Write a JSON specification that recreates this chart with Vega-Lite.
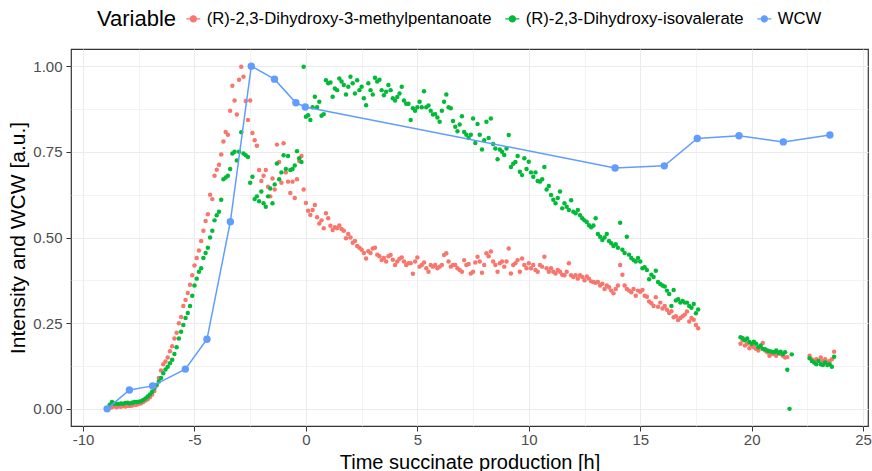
{
  "$schema": "https://vega.github.io/schema/vega-lite/v6.json",
  "autosize": {"type": "none"},
  "width": 797,
  "height": 377,
  "padding": {"left": 71, "top": 49, "right": 4, "bottom": 45},
  "background": "white",
  "config": {
    "font": "Liberation Sans",
    "view": {"stroke": "#333333", "strokeWidth": 1.2},
    "axis": {
      "domain": false,
      "tickColor": "#333333",
      "tickSize": 5,
      "labelColor": "#4D4D4D",
      "labelFontSize": 15,
      "titleFontSize": 21,
      "titleFontWeight": "normal",
      "titleColor": "#000000",
      "gridColor": "#EBEBEB"
    }
  },
  "datasets": {
    "mp": [
      {"t":-8.8,"v":0.003},{"t":-8.7,"v":0.005},{"t":-8.6,"v":0.008},{"t":-8.5,"v":0.005},{"t":-8.4,"v":0.007},{"t":-8.3,"v":0.006},{"t":-8.2,"v":0.008},{"t":-8.1,"v":0.007},{"t":-8.0,"v":0.009},{"t":-7.9,"v":0.008},
      {"t":-7.8,"v":0.01},{"t":-7.7,"v":0.012},{"t":-7.6,"v":0.012},{"t":-7.5,"v":0.015},{"t":-7.4,"v":0.016},{"t":-7.3,"v":0.02},{"t":-7.2,"v":0.024},{"t":-7.1,"v":0.028},{"t":-7.0,"v":0.034},{"t":-6.9,"v":0.042},
      {"t":-6.8,"v":0.052},{"t":-6.7,"v":0.068},{"t":-6.6,"v":0.09},{"t":-6.5,"v":0.112},{"t":-6.4,"v":0.13},{"t":-6.3,"v":0.138},{"t":-6.2,"v":0.15},{"t":-6.1,"v":0.168},{"t":-6.0,"v":0.183},{"t":-5.9,"v":0.205},
      {"t":-5.8,"v":0.222},{"t":-5.7,"v":0.25},{"t":-5.6,"v":0.268},{"t":-5.5,"v":0.3},{"t":-5.4,"v":0.318},{"t":-5.3,"v":0.338},{"t":-5.2,"v":0.362},{"t":-5.1,"v":0.39},{"t":-5.0,"v":0.418},{"t":-4.9,"v":0.44},
      {"t":-4.8,"v":0.462},{"t":-4.7,"v":0.49},{"t":-4.6,"v":0.52},{"t":-4.5,"v":0.548},{"t":-4.4,"v":0.568},{"t":-4.3,"v":0.625},{"t":-4.2,"v":0.612},{"t":-4.1,"v":0.68},{"t":-4.0,"v":0.698},{"t":-3.9,"v":0.712},
      {"t":-3.8,"v":0.742},{"t":-3.7,"v":0.78},{"t":-3.6,"v":0.808},{"t":-3.5,"v":0.8},{"t":-3.4,"v":0.87},{"t":-3.3,"v":0.943},{"t":-3.2,"v":0.9},{"t":-3.1,"v":0.859},{"t":-3.0,"v":0.96},{"t":-2.9,"v":0.998},
      {"t":-2.8,"v":0.969},{"t":-2.7,"v":0.898},{"t":-2.6,"v":0.843},{"t":-2.5,"v":0.9},{"t":-2.4,"v":0.805},{"t":-2.3,"v":0.784},{"t":-2.2,"v":0.768},{"t":-2.1,"v":0.697},{"t":-2.0,"v":0.665},{"t":-1.9,"v":0.68},
      {"t":-1.8,"v":0.697},{"t":-1.7,"v":0.648},{"t":-1.6,"v":0.62},{"t":-1.5,"v":0.672},{"t":-1.4,"v":0.64},{"t":-1.3,"v":0.771},{"t":-1.2,"v":0.72},{"t":-1.1,"v":0.66},{"t":-1.0,"v":0.775},{"t":-0.9,"v":0.69},
      {"t":-0.8,"v":0.663},{"t":-0.7,"v":0.63},{"t":-0.6,"v":0.663},{"t":-0.5,"v":0.615},{"t":-0.4,"v":0.67},{"t":-0.3,"v":0.723},{"t":-0.2,"v":0.738},{"t":-0.1,"v":0.64},
      {"t":0.0,"v":0.601},{"t":0.1,"v":0.578},{"t":0.2,"v":0.566},{"t":0.3,"v":0.58},{"t":0.4,"v":0.595},{"t":0.5,"v":0.559},{"t":0.6,"v":0.541},{"t":0.7,"v":0.55},{"t":0.8,"v":0.527},{"t":0.9,"v":0.571},
      {"t":1.0,"v":0.556},{"t":1.1,"v":0.534},{"t":1.2,"v":0.522},{"t":1.3,"v":0.53},{"t":1.4,"v":0.527},{"t":1.5,"v":0.535},{"t":1.6,"v":0.525},{"t":1.7,"v":0.52},{"t":1.8,"v":0.498},{"t":1.9,"v":0.51},
      {"t":2.0,"v":0.5},{"t":2.1,"v":0.485},{"t":2.2,"v":0.49},{"t":2.3,"v":0.475},{"t":2.4,"v":0.47},{"t":2.5,"v":0.464},{"t":2.6,"v":0.455},{"t":2.7,"v":0.439},{"t":2.8,"v":0.46},{"t":2.9,"v":0.455},
      {"t":3.0,"v":0.468},{"t":3.1,"v":0.47},{"t":3.2,"v":0.45},{"t":3.3,"v":0.445},{"t":3.4,"v":0.434},{"t":3.5,"v":0.44},{"t":3.6,"v":0.43},{"t":3.7,"v":0.445},{"t":3.8,"v":0.449},{"t":3.9,"v":0.435},
      {"t":4.0,"v":0.42},{"t":4.1,"v":0.43},{"t":4.2,"v":0.438},{"t":4.3,"v":0.442},{"t":4.4,"v":0.43},{"t":4.5,"v":0.42},{"t":4.6,"v":0.425},{"t":4.7,"v":0.425},{"t":4.8,"v":0.394},{"t":4.9,"v":0.43},
      {"t":5.0,"v":0.442},{"t":5.1,"v":0.415},{"t":5.2,"v":0.42},{"t":5.3,"v":0.427},{"t":5.4,"v":0.41},{"t":5.5,"v":0.4},{"t":5.6,"v":0.42},{"t":5.7,"v":0.415},{"t":5.8,"v":0.42},{"t":5.9,"v":0.41},
      {"t":6.0,"v":0.415},{"t":6.1,"v":0.42},{"t":6.2,"v":0.449},{"t":6.3,"v":0.454},{"t":6.4,"v":0.43},{"t":6.5,"v":0.415},{"t":6.6,"v":0.42},{"t":6.7,"v":0.42},{"t":6.8,"v":0.41},{"t":6.9,"v":0.405},
      {"t":7.0,"v":0.4},{"t":7.1,"v":0.434},{"t":7.2,"v":0.42},{"t":7.3,"v":0.423},{"t":7.4,"v":0.395},{"t":7.5,"v":0.4},{"t":7.6,"v":0.427},{"t":7.7,"v":0.444},{"t":7.8,"v":0.43},{"t":7.9,"v":0.397},
      {"t":8.0,"v":0.42},{"t":8.1,"v":0.454},{"t":8.2,"v":0.445},{"t":8.3,"v":0.459},{"t":8.4,"v":0.43},{"t":8.5,"v":0.42},{"t":8.6,"v":0.4},{"t":8.7,"v":0.425},{"t":8.8,"v":0.43},{"t":8.9,"v":0.415},
      {"t":9.0,"v":0.43},{"t":9.1,"v":0.468},{"t":9.2,"v":0.395},{"t":9.3,"v":0.42},{"t":9.4,"v":0.425},{"t":9.5,"v":0.434},{"t":9.6,"v":0.4},{"t":9.7,"v":0.439},{"t":9.8,"v":0.42},{"t":9.9,"v":0.41},
      {"t":10.0,"v":0.425},{"t":10.1,"v":0.41},{"t":10.2,"v":0.42},{"t":10.3,"v":0.405},{"t":10.4,"v":0.4},{"t":10.5,"v":0.42},{"t":10.6,"v":0.415},{"t":10.7,"v":0.444},{"t":10.8,"v":0.41},{"t":10.9,"v":0.4},
      {"t":11.0,"v":0.41},{"t":11.1,"v":0.4},{"t":11.2,"v":0.395},{"t":11.3,"v":0.405},{"t":11.4,"v":0.4},{"t":11.5,"v":0.391},{"t":11.6,"v":0.39},{"t":11.7,"v":0.4},{"t":11.8,"v":0.425},{"t":11.9,"v":0.39},
      {"t":12.0,"v":0.385},{"t":12.1,"v":0.39},{"t":12.2,"v":0.38},{"t":12.3,"v":0.39},{"t":12.4,"v":0.385},{"t":12.5,"v":0.375},{"t":12.6,"v":0.386},{"t":12.7,"v":0.38},{"t":12.8,"v":0.372},{"t":12.9,"v":0.37},
      {"t":13.0,"v":0.368},{"t":13.1,"v":0.37},{"t":13.2,"v":0.36},{"t":13.3,"v":0.365},{"t":13.4,"v":0.35},{"t":13.5,"v":0.36},{"t":13.6,"v":0.355},{"t":13.7,"v":0.345},{"t":13.8,"v":0.337},{"t":13.9,"v":0.35},
      {"t":14.0,"v":0.36},{"t":14.1,"v":0.42},{"t":14.2,"v":0.391},{"t":14.3,"v":0.36},{"t":14.4,"v":0.35},{"t":14.5,"v":0.345},{"t":14.6,"v":0.34},{"t":14.7,"v":0.35},{"t":14.8,"v":0.33},{"t":14.9,"v":0.345},
      {"t":15.0,"v":0.342},{"t":15.1,"v":0.347},{"t":15.2,"v":0.33},{"t":15.3,"v":0.327},{"t":15.4,"v":0.313},{"t":15.5,"v":0.308},{"t":15.6,"v":0.3},{"t":15.7,"v":0.326},{"t":15.8,"v":0.298},{"t":15.9,"v":0.31},
      {"t":16.0,"v":0.293},{"t":16.1,"v":0.3},{"t":16.2,"v":0.289},{"t":16.3,"v":0.28},{"t":16.4,"v":0.285},{"t":16.5,"v":0.267},{"t":16.6,"v":0.27},{"t":16.7,"v":0.259},{"t":16.8,"v":0.265},{"t":16.9,"v":0.27},
      {"t":17.0,"v":0.275},{"t":17.1,"v":0.284},{"t":17.2,"v":0.255},{"t":17.3,"v":0.265},{"t":17.4,"v":0.26},{"t":17.5,"v":0.245},{"t":17.6,"v":0.235},
      {"t":19.5,"v":0.19},{"t":19.6,"v":0.2},{"t":19.7,"v":0.185},{"t":19.8,"v":0.19},{"t":19.9,"v":0.177},{"t":20.0,"v":0.185},{"t":20.1,"v":0.18},{"t":20.2,"v":0.175},{"t":20.3,"v":0.17},{"t":20.4,"v":0.18},
      {"t":20.5,"v":0.192},{"t":20.6,"v":0.17},{"t":20.7,"v":0.165},{"t":20.8,"v":0.155},{"t":20.9,"v":0.16},{"t":21.0,"v":0.16},{"t":21.1,"v":0.155},{"t":21.2,"v":0.165},{"t":21.3,"v":0.16},{"t":21.4,"v":0.155},
      {"t":21.5,"v":0.15},{"t":21.6,"v":0.151},
      {"t":22.6,"v":0.155},{"t":22.7,"v":0.145},{"t":22.8,"v":0.14},{"t":22.9,"v":0.145},{"t":23.0,"v":0.14},{"t":23.1,"v":0.15},{"t":23.2,"v":0.14},{"t":23.3,"v":0.145},{"t":23.4,"v":0.135},{"t":23.5,"v":0.14},
      {"t":23.6,"v":0.145},{"t":23.7,"v":0.167}
    ],
    "iv": [
      {"t":-8.8,"v":0.012},{"t":-8.7,"v":0.02},{"t":-8.6,"v":0.015},{"t":-8.5,"v":0.015},{"t":-8.4,"v":0.014},{"t":-8.3,"v":0.016},{"t":-8.2,"v":0.015},{"t":-8.1,"v":0.017},{"t":-8.0,"v":0.018},{"t":-7.9,"v":0.016},
      {"t":-7.8,"v":0.018},{"t":-7.7,"v":0.02},{"t":-7.6,"v":0.02},{"t":-7.5,"v":0.021},{"t":-7.4,"v":0.022},{"t":-7.3,"v":0.026},{"t":-7.2,"v":0.03},{"t":-7.1,"v":0.036},{"t":-7.0,"v":0.042},{"t":-6.9,"v":0.05},
      {"t":-6.8,"v":0.06},{"t":-6.7,"v":0.07},{"t":-6.6,"v":0.08},{"t":-6.5,"v":0.09},{"t":-6.4,"v":0.104},{"t":-6.3,"v":0.115},{"t":-6.2,"v":0.123},{"t":-6.1,"v":0.133},{"t":-6.0,"v":0.143},{"t":-5.9,"v":0.16},
      {"t":-5.8,"v":0.18},{"t":-5.7,"v":0.205},{"t":-5.6,"v":0.225},{"t":-5.5,"v":0.245},{"t":-5.4,"v":0.265},{"t":-5.3,"v":0.28},{"t":-5.2,"v":0.3},{"t":-5.1,"v":0.33},{"t":-5.0,"v":0.36},{"t":-4.9,"v":0.38},
      {"t":-4.8,"v":0.4},{"t":-4.7,"v":0.41},{"t":-4.6,"v":0.44},{"t":-4.5,"v":0.455},{"t":-4.4,"v":0.47},{"t":-4.3,"v":0.5},{"t":-4.2,"v":0.52},{"t":-4.1,"v":0.55},{"t":-4.0,"v":0.565},{"t":-3.9,"v":0.575},
      {"t":-3.8,"v":0.61},{"t":-3.7,"v":0.67},{"t":-3.6,"v":0.675},{"t":-3.5,"v":0.68},{"t":-3.4,"v":0.7},{"t":-3.3,"v":0.745},{"t":-3.2,"v":0.75},{"t":-3.1,"v":0.725},{"t":-3.0,"v":0.75},{"t":-2.9,"v":0.807},
      {"t":-2.8,"v":0.745},{"t":-2.7,"v":0.74},{"t":-2.6,"v":0.735},{"t":-2.5,"v":0.66},{"t":-2.4,"v":0.677},{"t":-2.3,"v":0.612},{"t":-2.2,"v":0.62},{"t":-2.1,"v":0.606},{"t":-2.0,"v":0.634},{"t":-1.9,"v":0.6},
      {"t":-1.8,"v":0.59},{"t":-1.7,"v":0.62},{"t":-1.6,"v":0.643},{"t":-1.5,"v":0.6},{"t":-1.4,"v":0.655},{"t":-1.3,"v":0.716},{"t":-1.2,"v":0.67},{"t":-1.1,"v":0.69},{"t":-1.0,"v":0.74},{"t":-0.9,"v":0.7},
      {"t":-0.8,"v":0.738},{"t":-0.7,"v":0.697},{"t":-0.6,"v":0.7},{"t":-0.5,"v":0.71},{"t":-0.4,"v":0.752},{"t":-0.3,"v":0.731},{"t":-0.2,"v":0.72},{"t":-0.1,"v":0.998},
      {"t":0.0,"v":0.852},{"t":0.1,"v":0.857},{"t":0.2,"v":0.843},{"t":0.3,"v":0.88},{"t":0.4,"v":0.911},{"t":0.5,"v":0.88},{"t":0.6,"v":0.896},{"t":0.7,"v":0.855},{"t":0.8,"v":0.86},{"t":0.9,"v":0.959},
      {"t":1.0,"v":0.95},{"t":1.1,"v":0.952},{"t":1.2,"v":0.911},{"t":1.3,"v":0.935},{"t":1.4,"v":0.93},{"t":1.5,"v":0.964},{"t":1.6,"v":0.955},{"t":1.7,"v":0.945},{"t":1.8,"v":0.917},{"t":1.9,"v":0.94},
      {"t":2.0,"v":0.969},{"t":2.1,"v":0.95},{"t":2.2,"v":0.92},{"t":2.3,"v":0.959},{"t":2.4,"v":0.93},{"t":2.5,"v":0.94},{"t":2.6,"v":0.906},{"t":2.7,"v":0.886},{"t":2.8,"v":0.95},{"t":2.9,"v":0.93},
      {"t":3.0,"v":0.917},{"t":3.1,"v":0.966},{"t":3.2,"v":0.955},{"t":3.3,"v":0.96},{"t":3.4,"v":0.93},{"t":3.5,"v":0.915},{"t":3.6,"v":0.925},{"t":3.7,"v":0.945},{"t":3.8,"v":0.93},{"t":3.9,"v":0.906},
      {"t":4.0,"v":0.9},{"t":4.1,"v":0.91},{"t":4.2,"v":0.92},{"t":4.3,"v":0.94},{"t":4.4,"v":0.9},{"t":4.5,"v":0.89},{"t":4.6,"v":0.89},{"t":4.7,"v":0.843},{"t":4.8,"v":0.877},{"t":4.9,"v":0.87},
      {"t":5.0,"v":0.88},{"t":5.1,"v":0.896},{"t":5.2,"v":0.88},{"t":5.3,"v":0.927},{"t":5.4,"v":0.88},{"t":5.5,"v":0.885},{"t":5.6,"v":0.87},{"t":5.7,"v":0.859},{"t":5.8,"v":0.86},{"t":5.9,"v":0.85},
      {"t":6.0,"v":0.838},{"t":6.1,"v":0.87},{"t":6.2,"v":0.896},{"t":6.3,"v":0.917},{"t":6.4,"v":0.88},{"t":6.5,"v":0.877},{"t":6.6,"v":0.84},{"t":6.7,"v":0.823},{"t":6.8,"v":0.81},{"t":6.9,"v":0.83},
      {"t":7.0,"v":0.854},{"t":7.1,"v":0.808},{"t":7.2,"v":0.8},{"t":7.3,"v":0.79},{"t":7.4,"v":0.8},{"t":7.5,"v":0.847},{"t":7.6,"v":0.776},{"t":7.7,"v":0.831},{"t":7.8,"v":0.8},{"t":7.9,"v":0.757},
      {"t":8.0,"v":0.784},{"t":8.1,"v":0.838},{"t":8.2,"v":0.79},{"t":8.3,"v":0.847},{"t":8.4,"v":0.773},{"t":8.5,"v":0.76},{"t":8.6,"v":0.728},{"t":8.7,"v":0.757},{"t":8.8,"v":0.75},{"t":8.9,"v":0.741},
      {"t":9.0,"v":0.76},{"t":9.1,"v":0.799},{"t":9.2,"v":0.706},{"t":9.3,"v":0.715},{"t":9.4,"v":0.72},{"t":9.5,"v":0.738},{"t":9.6,"v":0.692},{"t":9.7,"v":0.682},{"t":9.8,"v":0.731},{"t":9.9,"v":0.7},
      {"t":10.0,"v":0.721},{"t":10.1,"v":0.69},{"t":10.2,"v":0.677},{"t":10.3,"v":0.69},{"t":10.4,"v":0.665},{"t":10.5,"v":0.663},{"t":10.6,"v":0.67},{"t":10.7,"v":0.706},{"t":10.8,"v":0.64},{"t":10.9,"v":0.65},
      {"t":11.0,"v":0.624},{"t":11.1,"v":0.61},{"t":11.2,"v":0.6},{"t":11.3,"v":0.615},{"t":11.4,"v":0.634},{"t":11.5,"v":0.585},{"t":11.6,"v":0.6},{"t":11.7,"v":0.59},{"t":11.8,"v":0.58},{"t":11.9,"v":0.609},
      {"t":12.0,"v":0.575},{"t":12.1,"v":0.571},{"t":12.2,"v":0.58},{"t":12.3,"v":0.565},{"t":12.4,"v":0.556},{"t":12.5,"v":0.55},{"t":12.6,"v":0.545},{"t":12.7,"v":0.536},{"t":12.8,"v":0.53},{"t":12.9,"v":0.535},
      {"t":13.0,"v":0.556},{"t":13.1,"v":0.51},{"t":13.2,"v":0.502},{"t":13.3,"v":0.493},{"t":13.4,"v":0.5},{"t":13.5,"v":0.51},{"t":13.6,"v":0.49},{"t":13.7,"v":0.483},{"t":13.8,"v":0.475},{"t":13.9,"v":0.48},
      {"t":14.0,"v":0.47},{"t":14.1,"v":0.543},{"t":14.2,"v":0.464},{"t":14.3,"v":0.455},{"t":14.4,"v":0.502},{"t":14.5,"v":0.45},{"t":14.6,"v":0.44},{"t":14.7,"v":0.434},{"t":14.8,"v":0.43},{"t":14.9,"v":0.44},
      {"t":15.0,"v":0.43},{"t":15.1,"v":0.41},{"t":15.2,"v":0.413},{"t":15.3,"v":0.405},{"t":15.4,"v":0.378},{"t":15.5,"v":0.391},{"t":15.6,"v":0.385},{"t":15.7,"v":0.403},{"t":15.8,"v":0.37},{"t":15.9,"v":0.364},
      {"t":16.0,"v":0.36},{"t":16.1,"v":0.357},{"t":16.2,"v":0.345},{"t":16.3,"v":0.335},{"t":16.4,"v":0.3},{"t":16.5,"v":0.347},{"t":16.6,"v":0.316},{"t":16.7,"v":0.32},{"t":16.8,"v":0.31},{"t":16.9,"v":0.315},
      {"t":17.0,"v":0.31},{"t":17.1,"v":0.31},{"t":17.2,"v":0.3},{"t":17.3,"v":0.295},{"t":17.4,"v":0.306},{"t":17.5,"v":0.279},{"t":17.6,"v":0.29},
      {"t":19.5,"v":0.209},{"t":19.6,"v":0.206},{"t":19.7,"v":0.2},{"t":19.8,"v":0.205},{"t":19.9,"v":0.195},{"t":20.0,"v":0.19},{"t":20.1,"v":0.196},{"t":20.2,"v":0.19},{"t":20.3,"v":0.18},{"t":20.4,"v":0.185},
      {"t":20.5,"v":0.175},{"t":20.6,"v":0.174},{"t":20.7,"v":0.17},{"t":20.8,"v":0.168},{"t":20.9,"v":0.167},{"t":21.0,"v":0.165},{"t":21.1,"v":0.17},{"t":21.2,"v":0.163},{"t":21.3,"v":0.167},{"t":21.4,"v":0.16},
      {"t":21.5,"v":0.165},{"t":21.6,"v":0.114},{"t":21.7,"v":0.0},{"t":21.8,"v":0.159},
      {"t":22.6,"v":0.148},{"t":22.7,"v":0.14},{"t":22.8,"v":0.135},{"t":22.9,"v":0.13},{"t":23.0,"v":0.14},{"t":23.1,"v":0.13},{"t":23.2,"v":0.128},{"t":23.3,"v":0.135},{"t":23.4,"v":0.128},{"t":23.5,"v":0.13},
      {"t":23.6,"v":0.123},{"t":23.7,"v":0.152}
    ],
    "wcw": [
      {"t":-8.92,"v":0.0},{"t":-7.92,"v":0.055},{"t":-6.88,"v":0.067},{"t":-5.41,"v":0.116},{"t":-4.44,"v":0.203},{"t":-3.39,"v":0.546},{"t":-2.45,"v":1.0},{"t":-1.41,"v":0.962},
      {"t":-0.45,"v":0.893},{"t":-0.03,"v":0.881},{"t":13.87,"v":0.703},{"t":16.08,"v":0.709},{"t":17.56,"v":0.789},{"t":19.43,"v":0.797},{"t":21.42,"v":0.779},{"t":23.51,"v":0.799}
    ]
  },
  "encoding": {
    "x": {
      "field": "t",
      "type": "quantitative",
      "scale": {"domain": [-10.54, 25.22], "nice": false, "zero": false},
      "axis": {
        "title": "Time succinate production [h]",
        "titleFontSize": 20,
        "titleBaseline": "alphabetic",
        "titleY": 42,
        "values": [-10, -7.5, -5, -2.5, 0, 2.5, 5, 7.5, 10, 12.5, 15, 17.5, 20, 22.5, 25],
        "labelExpr": "datum.value % 5 === 0 ? '' + datum.value : ''",
        "labelPadding": 1,
        "tickOpacity": {"condition": {"test": "datum.value % 5 === 0", "value": 1}, "value": 0},
        "gridWidth": {"condition": {"test": "datum.value % 5 === 0", "value": 1.1}, "value": 0.6}
      }
    },
    "y": {
      "field": "v",
      "type": "quantitative",
      "scale": {"domain": [-0.05, 1.05], "nice": false, "zero": false},
      "axis": {
        "title": "Intensity and WCW [a.u.]",
        "values": [0, 0.125, 0.25, 0.375, 0.5, 0.625, 0.75, 0.875, 1.0],
        "labelExpr": "(datum.value * 4) % 1 === 0 ? format(datum.value, '.2f') : ''",
        "labelPadding": 4,
        "titlePadding": 4,
        "tickOpacity": {"condition": {"test": "(datum.value * 4) % 1 === 0", "value": 1}, "value": 0},
        "gridWidth": {"condition": {"test": "(datum.value * 4) % 1 === 0", "value": 1.1}, "value": 0.6}
      }
    }
  },
  "layer": [
    {
      "data": {"name": "mp"},
      "mark": {"type": "point", "filled": true, "opacity": 1, "size": 20},
      "encoding": {
        "color": {
          "datum": "(R)-2,3-Dihydroxy-3-methylpentanoate",
          "type": "nominal",
          "title": "Variable",
          "scale": {
            "domain": ["(R)-2,3-Dihydroxy-3-methylpentanoate", "(R)-2,3-Dihydroxy-isovalerate", "WCW"],
            "range": ["#F8766D", "#00BA38", "#619CFF"]
          },
          "legend": {
            "orient": "none",
            "legendX": 26,
            "legendY": -39,
            "direction": "horizontal",
            "titleOrient": "left",
            "titleFontSize": 22,
            "titleFontWeight": "normal",
            "titleColor": "#000000",
            "titlePadding": 8,
            "labelFontSize": 16.7,
            "labelColor": "#000000",
            "labelLimit": 0,
            "labelOffset": 5,
            "columnPadding": 10,
            "symbolType": "M-1,0L1,0M0.43,0A0.43,0.43,0,1,1,-0.43,0A0.43,0.43,0,1,1,0.43,0Z",
            "symbolSize": 196,
            "symbolStrokeWidth": 1.3,
            "encode": {
              "symbols": {
                "update": {
                  "fill": {"scale": "color", "field": "value"},
                  "stroke": {"scale": "color", "field": "value"},
                  "opacity": {"value": 1}
                }
              }
            }
          }
        }
      }
    },
    {
      "data": {"name": "iv"},
      "mark": {"type": "point", "filled": true, "opacity": 1, "size": 20},
      "encoding": {"color": {"datum": "(R)-2,3-Dihydroxy-isovalerate", "type": "nominal"}}
    },
    {
      "data": {"name": "wcw"},
      "mark": {"type": "line", "strokeWidth": 1.5},
      "encoding": {"color": {"datum": "WCW", "type": "nominal"}}
    },
    {
      "data": {"name": "wcw"},
      "mark": {"type": "point", "filled": true, "opacity": 1, "size": 55},
      "encoding": {"color": {"datum": "WCW", "type": "nominal"}}
    }
  ]
}
